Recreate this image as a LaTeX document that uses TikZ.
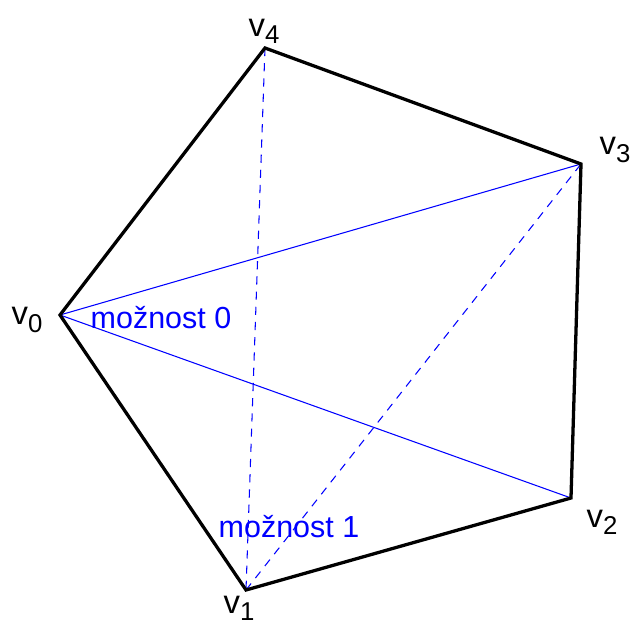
\documentclass[tikz,border=0pt]{standalone}
\usepackage{fontspec}
\setmainfont{Liberation Sans}
\usetikzlibrary{positioning}

\newcommand{\vlab}[1]{{\fontsize{28}{32}\selectfont v}\raisebox{-0.45ex}{\fontsize{22}{26}\selectfont #1}}

\begin{document}
\begin{tikzpicture}[
            x=0.03cm, y=-0.03cm,
            every node/.style={font=\fontsize{26}{30}\selectfont},
            side/.style={line width=2.8pt, line join=miter},
            diag/.style={blue, line width=0.9pt},
            diagdash/.style={blue, line width=0.9pt, dash pattern=on 7pt off 6pt}
        ]

        \useasboundingbox (0,0) rectangle (634,626);

        % vertices
        \coordinate (v0) at (60,315);
        \coordinate (v1) at (246,590);
        \coordinate (v2) at (571,498);
        \coordinate (v3) at (581,164);
        \coordinate (v4) at (265,48);

        % labels
        \node (l0) at (27,320) {\vlab{0}};
        \node (l1) at (239,608) {\vlab{1}};
        \node (l2) at (602,522) {\vlab{2}};
        \node (l3) at (615,150) {\vlab{3}};
        \node (l4) at (264,31) {\vlab{4}};

        % diagonals
        \draw[diag] (v0) -- (v3);
        \draw[diag] (v0) -- (v2);
        \draw[diagdash] (v4) -- (v1);
        \draw[diagdash] (v1) -- (v3);

        \node[blue] (opt0) at (161,318) {možnost 0};
        \node[blue] (opt1) at (289,527) {možnost 1};

        % polygon
        \draw[side] (v0) -- (v1) -- (v2) -- (v3) -- (v4) -- cycle;

    \end{tikzpicture}
\end{document}
